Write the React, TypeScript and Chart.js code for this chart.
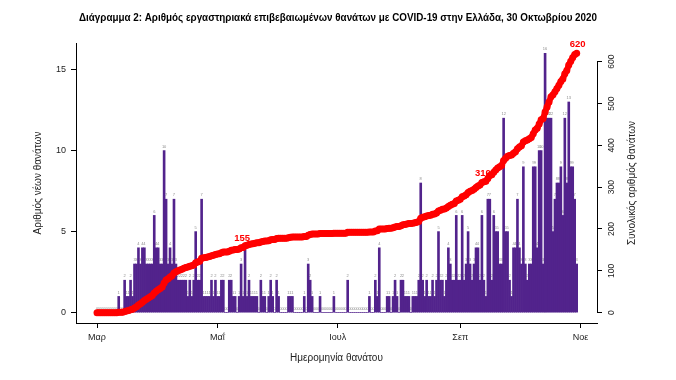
import React, { useEffect, useRef } from "react";
import { Chart, registerables } from "chart.js";

Chart.register(...registerables);

// Day index 0 = 1 March 2020, last = 30 October 2020
const dailyDeaths: number[] = [
  0, 0, 0, 0, 0, 0, 0, 0, 0, 0,
  0, 1, 0, 0, 2, 1, 1, 2, 1, 3,
  3, 4, 3, 4, 4, 3, 3, 3, 3, 6,
  4, 4, 3, 3, 10, 7, 3, 4, 3, 7,
  3, 2, 2, 2, 2, 2, 1, 2, 1, 2,
  5, 2, 2, 7, 1, 1, 1, 1, 2, 1,
  2, 1, 1, 2, 2, 0, 0, 2, 2, 1,
  1, 0, 1, 3, 1, 4, 1, 2, 1, 1,
  1, 1, 0, 2, 1, 1, 0, 1, 2, 1,
  0, 2, 1, 0, 0, 0, 0, 1, 1, 1,
  0, 0, 0, 0, 0, 1, 0, 3, 2, 1,
  0, 0, 0, 1, 0, 0, 0, 0, 0, 0,
  1, 0, 0, 0, 0, 0, 0, 2, 0, 0,
  0, 0, 0, 0, 0, 0, 0, 0, 1, 0,
  0, 2, 1, 4, 0, 0, 0, 1, 1, 0,
  1, 2, 1, 0, 2, 2, 1, 1, 1, 0,
  1, 1, 1, 2, 8, 2, 1, 2, 1, 1,
  2, 1, 2, 5, 2, 2, 1, 2, 4, 3,
  2, 2, 6, 2, 2, 6, 2, 3, 5, 3,
  2, 3, 4, 4, 2, 6, 2, 1, 7, 7,
  2, 6, 5, 5, 3, 3, 12, 5, 5, 2,
  1, 4, 4, 7, 4, 3, 9, 3, 2, 3,
  3, 9, 9, 4, 10, 10, 3, 16, 12, 12,
  12, 5, 7, 8, 8, 9, 6, 12, 8, 13,
  9, 9, 7, 3,
];

const xTickDays = [0, 61, 122, 184, 245];
const xTickLabels = ["Μαρ", "Μαΐ", "Ιουλ", "Σεπ", "Νοε"];
const leftTicks = [0, 5, 10, 15];
const rightTicks = [0, 100, 200, 300, 400, 500, 600];
const markedDays = [73, 195, 243];
const markedLabels = ["155", "310", "620"];

const TITLE =
  "Διάγραμμα 2: Αριθμός εργαστηριακά επιβεβαιωμένων θανάτων με COVID-19 στην Ελλάδα, 30 Οκτωβρίου 2020";
const LEFT_TITLE = "Αριθμός νέων θανάτων";
const RIGHT_TITLE = "Συνολικός αριθμός θανάτων";
const X_TITLE = "Ημερομηνία θανάτου";

const PURPLE = "#52238c";
const RED = "#ff0000";
const FONT = '"Liberation Sans", Arial, sans-serif';

const barLabelPlugin = {
  id: "barLabels",
  beforeDatasetsDraw(chart: any) {
    const meta = chart.getDatasetMeta(0);
    const ctx = chart.ctx;
    ctx.save();
    ctx.font = `4px ${FONT}`;
    ctx.fillStyle = "#8c8c8c";
    ctx.textAlign = "center";
    ctx.textBaseline = "bottom";
    meta.data.forEach((el: any, i: number) => {
      ctx.fillText(String(dailyDeaths[i]), el.x, el.y - 2);
    });
    ctx.restore();
  },
};

const decorPlugin = {
  id: "decor",
  afterDraw(chart: any) {
    const ctx = chart.ctx;
    const area = chart.chartArea;
    const y2 = chart.scales.y2;
    const midY = (area.top + area.bottom) / 2;
    ctx.save();
    // title (condensed to the plot width)
    ctx.fillStyle = "#000";
    ctx.font = `bold 10.5px ${FONT}`;
    ctx.textAlign = "center";
    ctx.textBaseline = "middle";
    ctx.fillText(TITLE, 338, 18, 518);
    // right axis line over tick range
    ctx.strokeStyle = "#000";
    ctx.lineWidth = 1;
    ctx.beginPath();
    const rx = Math.round(area.right) + 0.5;
    ctx.moveTo(rx, y2.getPixelForValue(rightTicks[0]));
    ctx.lineTo(rx, y2.getPixelForValue(rightTicks[rightTicks.length - 1]));
    ctx.stroke();
    // right tick labels (rotated)
    ctx.fillStyle = "#222";
    ctx.font = `8.5px ${FONT}`;
    rightTicks.forEach((v) => {
      ctx.save();
      ctx.translate(area.right + 15, y2.getPixelForValue(v));
      ctx.rotate(-Math.PI / 2);
      ctx.fillText(String(v), 0, 0);
      ctx.restore();
    });
    // axis titles
    ctx.font = `10px ${FONT}`;
    ctx.fillStyle = "#222";
    ctx.save();
    ctx.translate(38, midY);
    ctx.rotate(-Math.PI / 2);
    ctx.fillText(LEFT_TITLE, 0, 0);
    ctx.restore();
    ctx.save();
    ctx.translate(632, midY);
    ctx.rotate(-Math.PI / 2);
    ctx.fillText(RIGHT_TITLE, 0, 0);
    ctx.restore();
    ctx.fillText(X_TITLE, (area.left + area.right) / 2, 358);
    // cumulative labels
    const lineMeta = chart.getDatasetMeta(1);
    ctx.font = `bold 9.5px ${FONT}`;
    ctx.fillStyle = RED;
    markedDays.forEach((d, i) => {
      const el = lineMeta.data[d];
      if (el) ctx.fillText(markedLabels[i], el.x + 1, el.y - 9);
    });
    ctx.restore();
  },
};

export default function App() {
  const ref = useRef<HTMLCanvasElement>(null);
  useEffect(() => {
    const canvas = ref.current!;
    const cumulative: number[] = [];
    let s = 0;
    dailyDeaths.forEach((v) => {
      s += v;
      cumulative.push(s);
    });
    const barData = dailyDeaths.map((v, i) => ({ x: i, y: v }));
    const lineData = cumulative.map((v, i) => ({ x: i, y: v }));
    const tickFont = { family: FONT, size: 9 };
    const chart = new Chart(canvas, {
      type: "bar",
      data: {
        datasets: [
          {
            type: "bar",
            data: barData,
            backgroundColor: PURPLE,
            barPercentage: 1,
            categoryPercentage: 1,
            borderWidth: 0,
            yAxisID: "y",
            xAxisID: "x",
            order: 2,
          } as any,
          {
            type: "line",
            data: lineData,
            yAxisID: "y2",
            xAxisID: "x",
            borderColor: RED,
            backgroundColor: RED,
            borderWidth: 6,
            pointRadius: 3.5,
            pointBorderWidth: 0,
            pointBackgroundColor: RED,
            tension: 0,
            order: 1,
          } as any,
        ],
      },
      options: {
        responsive: false,
        animation: false,
        layout: { padding: { left: 0, right: 0, top: 43, bottom: 0 } },
        plugins: {
          legend: { display: false },
          tooltip: { enabled: false },
          title: { display: false },
        },
        scales: {
          x: {
            type: "linear",
            min: -10.64,
            max: 253.3,
            offset: false,
            afterFit: (sc: any) => {
              sc.height = 57;
            },
            afterBuildTicks: (sc: any) => {
              sc.ticks = xTickDays.map((v) => ({ value: v }));
            },
            ticks: {
              autoSkip: false,
              maxRotation: 0,
              minRotation: 0,
              padding: 4,
              color: "#222",
              font: tickFont,
              callback: (v: any) => xTickLabels[xTickDays.indexOf(Number(v))],
            },
            grid: {
              offset: false,
              drawOnChartArea: false,
              drawTicks: true,
              tickLength: 5,
              color: "#000",
            },
            border: { display: true, color: "#000", width: 1 },
          },
          y: {
            position: "left",
            min: -0.64,
            max: 16.64,
            afterFit: (sc: any) => {
              sc.width = 76;
            },
            afterBuildTicks: (sc: any) => {
              sc.ticks = leftTicks.map((v) => ({ value: v }));
            },
            ticks: { padding: 5, color: "#222", font: tickFont },
            grid: {
              drawOnChartArea: false,
              drawTicks: true,
              tickLength: 5,
              color: "#000",
            },
            border: { display: true, color: "#000", width: 1 },
          },
          y2: {
            position: "right",
            min: -24.8,
            max: 644.8,
            afterFit: (sc: any) => {
              sc.width = 79;
            },
            afterBuildTicks: (sc: any) => {
              sc.ticks = rightTicks.map((v) => ({ value: v }));
            },
            ticks: { display: false },
            grid: {
              drawOnChartArea: false,
              drawTicks: true,
              tickLength: 5,
              color: "#000",
            },
            border: { display: false },
          },
        },
      } as any,
      plugins: [barLabelPlugin, decorPlugin],
    });
    return () => chart.destroy();
  }, []);
  return (
    <canvas
      ref={ref}
      width={676}
      height={380}
      style={{ display: "block", position: "absolute", left: 0, top: 0, background: "#fff" }}
    />
  );
}
